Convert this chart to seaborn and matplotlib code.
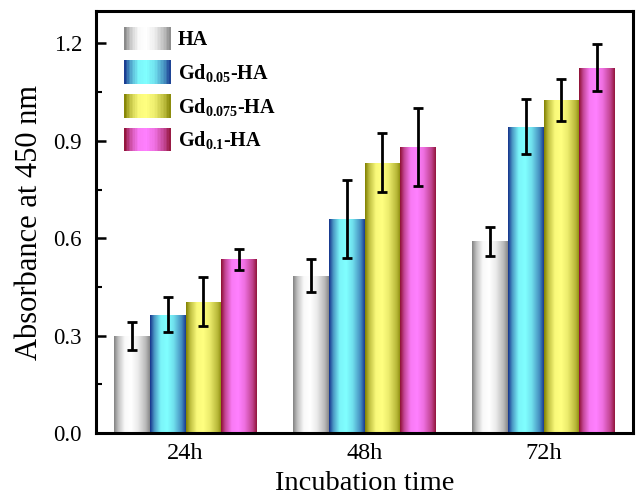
import numpy as np
import pandas as pd
import matplotlib
matplotlib.use("Agg")
import matplotlib.pyplot as plt
import seaborn as sns
from matplotlib.colors import LinearSegmentedColormap, to_rgb
from matplotlib.patches import Rectangle
from matplotlib.legend_handler import HandlerBase
from matplotlib.ticker import MultipleLocator

# ---- data ----
times = ["24h", "48h", "72h"]
samples = ["HA", "Gd$_{0.05}$-HA", "Gd$_{0.075}$-HA", "Gd$_{0.1}$-HA"]
ha_mean = [0.300, 0.484, 0.591]
ha_err = [0.043, 0.051, 0.045]
gd005_mean = [0.365, 0.660, 0.943]
gd005_err = [0.053, 0.120, 0.085]
gd0075_mean = [0.405, 0.833, 1.025]
gd0075_err = [0.075, 0.090, 0.064]
gd01_mean = [0.535, 0.880, 1.125]
gd01_err = [0.033, 0.120, 0.072]

means = [ha_mean, gd005_mean, gd0075_mean, gd01_mean]
errs = [ha_err, gd005_err, gd0075_err, gd01_err]

# gradient colours (edge dark, center light)
dark_cols = ["#828282", "#14308a", "#7f7f00", "#8c0f30"]
light_cols = ["#ffffff", "#80ffff", "#ffff80", "#ff80ff"]

rows = []
for s, m in zip(samples, means):
    for t, v in zip(times, m):
        rows.append({"time": t, "sample": s, "value": v})
df = pd.DataFrame(rows)

sns.set_theme(style="white")
plt.rcParams["font.family"] = ["Liberation Serif", "DejaVu Serif"]
plt.rcParams["mathtext.fontset"] = "custom"
plt.rcParams["mathtext.rm"] = "Liberation Serif:bold"
plt.rcParams["mathtext.bf"] = "Liberation Serif:bold"
plt.rcParams["mathtext.default"] = "bf"
plt.rcParams["text.color"] = "black"
plt.rcParams["axes.labelcolor"] = "black"
plt.rcParams["xtick.color"] = "black"
plt.rcParams["ytick.color"] = "black"


def make_cmap(dark, light):
    d = np.array(to_rgb(dark))
    l = np.array(to_rgb(light))
    stops = [(0.0, 0.0), (0.12, 0.5), (0.3, 0.95), (0.48, 1.0), (0.66, 0.85), (0.88, 0.45), (1.0, 0.05)]
    return LinearSegmentedColormap.from_list(
        "g", [(p, tuple(d + (l - d) * f)) for p, f in stops])


cmaps = [make_cmap(d, l) for d, l in zip(dark_cols, light_cols)]

fig = plt.figure(figsize=(6.36, 4.97), dpi=100)
ax = fig.add_axes([96 / 636, 1 - 433 / 497, (633 - 96) / 636, (433 - 11) / 497])

sns.barplot(data=df, x="time", y="value", hue="sample", hue_order=samples,
            order=times, palette=dark_cols, width=0.8, errorbar=None,
            saturation=1, legend=False, ax=ax)

grad = np.linspace(0, 1, 256).reshape(1, -1)
bars = [p for p in ax.patches if isinstance(p, Rectangle)]
# patches ordered by hue then by x
for i, s in enumerate(samples):
    for j in range(len(times)):
        p = bars[i * len(times) + j]
        x0, w, h = p.get_x(), p.get_width(), p.get_height()
        p.set_facecolor("none")
        p.set_edgecolor("none")
        im = ax.imshow(grad, cmap=cmaps[i], aspect="auto",
                       extent=[x0, x0 + w, 0, h], interpolation="bilinear",
                       zorder=2)
        im.set_clip_path(p)
        ax.errorbar(x0 + w / 2, h, yerr=errs[i][j], fmt="none",
                    ecolor="black", elinewidth=2, capsize=3.6, capthick=2,
                    zorder=4)

ax.set_xlim(-0.5, 2.5)
ax.set_ylim(0, 1.3)
ax.yaxis.set_major_locator(MultipleLocator(0.3))
ax.yaxis.set_minor_locator(MultipleLocator(0.15))
ax.yaxis.set_major_formatter(matplotlib.ticker.FormatStrFormatter("%.1f"))
ax.tick_params(axis="y", which="major", direction="in", length=7, width=1.8,
               labelsize=16.5, left=True, pad=10)
ax.tick_params(axis="y", which="minor", direction="in", length=4, width=1.5,
               left=True)
ax.tick_params(axis="x", which="both", length=0, labelsize=17.5, pad=7)
for sp in ax.spines.values():
    sp.set_linewidth(2.2)
    sp.set_color("black")
    sp.set_visible(True)

ax.set_xlabel("Incubation time", fontsize=20.5, labelpad=5)
ax.set_ylabel("Absorbance at 450 nm", fontsize=22, labelpad=7)


class GradHandler(HandlerBase):
    def __init__(self, cmap):
        super().__init__()
        self.cmap = cmap

    def create_artists(self, legend, orig_handle, xdescent, ydescent, width,
                       height, fontsize, trans):
        n = 30
        arts = []
        for k in range(n):
            r = Rectangle((-xdescent + width * k / n, -ydescent - 2), width / n + 0.3,
                          height + 4, facecolor=self.cmap((k + 0.5) / n),
                          edgecolor="none", transform=trans)
            arts.append(r)
        return arts


handles = [Rectangle((0, 0), 1, 1, label=s) for s in samples]
hmap = {h: GradHandler(c) for h, c in zip(handles, cmaps)}
leg = ax.legend(handles=handles, labels=samples, handler_map=hmap,
                loc="upper left", bbox_to_anchor=(0.03, 0.985), frameon=False,
                prop={"weight": "bold", "size": 14.5}, handlelength=2.3,
                handleheight=1.0, labelspacing=0.58, handletextpad=0.35,
                borderaxespad=0.2)

fig.savefig("out.png", dpi=100)
